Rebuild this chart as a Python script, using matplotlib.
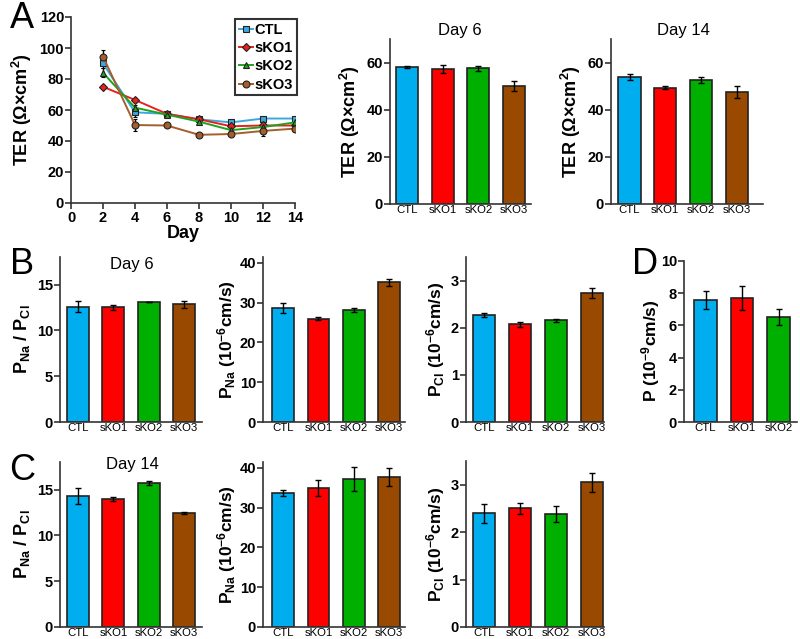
import numpy as np
import matplotlib
matplotlib.use("Agg")
import matplotlib.pyplot as plt

plt.rcParams["font.family"] = ["Liberation Sans", "DejaVu Sans"]
plt.rcParams["mathtext.fontset"] = "custom"
plt.rcParams["mathtext.rm"] = "Liberation Sans:bold"
plt.rcParams["mathtext.it"] = "Liberation Sans:bold"
plt.rcParams["mathtext.bf"] = "Liberation Sans:bold"

# Data
groups = ["CTL", "sKO1", "sKO2", "sKO3"]
days = [2, 4, 6, 8, 10, 12, 14]
ter_ctl = [90, 58.5, 57.5, 54, 52, 54.5, 54.5]
ter_sko1 = [75, 66.5, 57.5, 54, 49.5, 50, 50]
ter_sko2 = [84, 61.5, 57, 52.5, 47, 49, 52]
ter_sko3 = [94.5, 50.3, 50, 44, 44.5, 46.5, 48]
ter_ctl_err = [3, 3, 1, 1, 1, 1, 1]
ter_sko1_err = [1, 1, 1, 1, 1, 1, 1]
ter_sko2_err = [3, 2, 1, 1, 1, 1, 1]
ter_sko3_err = [4, 4, 1, 1, 1, 3, 1.5]

ter_day6 = [58, 57.2, 57.5, 50]
ter_day6_err = [0.5, 1.7, 1.0, 2.0]
ter_day14 = [53.8, 49.3, 52.7, 47.5]
ter_day14_err = [1.2, 0.6, 1.3, 2.5]

ratio_day6 = [12.6, 12.5, 13.05, 12.85]
ratio_day6_err = [0.6, 0.3, 0.0, 0.4]
pna_day6 = [28.6, 26.0, 28.1, 35.1]
pna_day6_err = [1.3, 0.3, 0.5, 0.8]
pcl_day6 = [2.27, 2.07, 2.16, 2.74]
pcl_day6_err = [0.05, 0.05, 0.03, 0.1]

ratio_day14 = [14.3, 13.95, 15.7, 12.4]
ratio_day14_err = [0.9, 0.2, 0.2, 0.1]
pna_day14 = [33.7, 34.9, 37.3, 37.7]
pna_day14_err = [0.8, 2.0, 3.0, 2.2]
pcl_day14 = [2.40, 2.50, 2.38, 3.05]
pcl_day14_err = [0.2, 0.12, 0.17, 0.2]

d_groups = ["CTL", "sKO1", "sKO2"]
perm_d = [7.57, 7.72, 6.52]
perm_d_err = [0.55, 0.75, 0.5]

colors = ["#00AEEF", "#FF0000", "#00B000", "#9A4A00"]
W, H = 800, 639

fig = plt.figure(figsize=(8, 6.39), dpi=100)


def place(l, t, r, b):
    ax = fig.add_axes([l / W, 1 - b / H, (r - l) / W, (b - t) / H])
    ax._wpx = r - l
    return ax


def style(ax, label_off, ylabel, lsize=13):
    for s in ["top", "right"]:
        ax.spines[s].set_visible(False)
    for s in ["left", "bottom"]:
        ax.spines[s].set_color("#333333")
        ax.spines[s].set_linewidth(1.2)
    ax.tick_params(axis="y", direction="out", length=4, width=1.2, color="#333333",
                   labelsize=10.5, pad=1)
    for t in ax.get_yticklabels():
        t.set_fontweight("bold")
    ax.set_ylabel(ylabel, fontsize=lsize, fontweight="bold")
    ax.yaxis.set_label_coords(-label_off / ax._wpx, 0.5)


def bars(ax, names, vals, errs, ylim, yticks, xlim, label_off, ylabel, lsize=13):
    x = np.arange(len(vals))
    ax.bar(x, vals, width=0.62, color=colors[:len(vals)], edgecolor="#222222",
           linewidth=1.2, yerr=errs, capsize=2,
           error_kw=dict(elinewidth=1, ecolor="black", capthick=1))
    ax.set_xlim(*xlim)
    ax.set_ylim(*ylim)
    ax.set_yticks(yticks)
    ax.set_xticks(x)
    ax.set_xticklabels(names, fontsize=8.2)
    ax.tick_params(axis="x", length=0, pad=1)
    style(ax, label_off, ylabel, lsize)


# Panel A line chart
axA = place(71, 17, 295, 203)
series = [(ter_ctl, ter_ctl_err, "s", "CTL", "#3DA8DF"),
          (ter_sko1, ter_sko1_err, "D", "sKO1", "#E8211D"),
          (ter_sko2, ter_sko2_err, "^", "sKO2", "#1FA31F"),
          (ter_sko3, ter_sko3_err, "o", "sKO3", "#A45E2C")]
handles = []
for vals, errs, mk, name, c in series:
    cont = axA.errorbar(days, vals, yerr=errs, color=c, marker=mk,
                        markersize=5 if mk != "D" else 4, markerfacecolor=c,
                        markeredgecolor="#222222", markeredgewidth=0.8, linewidth=1.4,
                        ecolor="black", elinewidth=1, capsize=1.5, label=name)
    handles.append(cont.lines[0])
axA.set_xlim(0, 14)
axA.set_ylim(0, 120)
axA.set_xticks(range(0, 15, 2))
axA.set_yticks(range(0, 121, 20))
style(axA, 37, "TER (\u03a9\u00d7cm$^{2}$)")
axA.tick_params(axis="x", direction="out", length=4, width=1.2, color="#333333",
                labelsize=10.5, pad=2)
for t in axA.get_xticklabels():
    t.set_fontweight("bold")
axA.set_xlabel("Day", fontsize=13, fontweight="bold", labelpad=0)
leg = axA.legend(handles, [s[3] for s in series], loc="upper left",
                 bbox_to_anchor=(235 / W, 1 - 19 / H),
                 bbox_transform=fig.transFigure, fancybox=False,
                 edgecolor="black", handlelength=1.0, handletextpad=0.1,
                 borderpad=0.25, labelspacing=0.3, borderaxespad=0,
                 prop=dict(weight="bold", size=10.5))
leg.get_frame().set_linewidth(1.5)

# Panel A bars
ax6 = place(390, 39, 531, 204)
bars(ax6, groups, ter_day6, ter_day6_err, (0, 70), [0, 20, 40, 60], (-0.47, 3.47),
     28, "TER (\u03a9\u00d7cm$^{2}$)")
fig.text(460 / W, 1 - 31 / H, "Day 6", ha="center", va="center", fontsize=12)

ax14 = place(611, 39, 763, 204)
bars(ax14, groups, ter_day14, ter_day14_err, (0, 70), [0, 20, 40, 60], (-0.52, 3.74),
     28, "TER (\u03a9\u00d7cm$^{2}$)")
fig.text(683 / W, 1 - 31 / H, "Day 14", ha="center", va="center", fontsize=12)

ratio_lbl = "P$_{\\rm Na}$ / P$_{\\rm Cl}$"
pna_lbl = "P$_{\\rm Na}$ (10$^{-6}$cm/s)"
pcl_lbl = "P$_{\\rm Cl}$ (10$^{-6}$cm/s)"

# Panel B
axB1 = place(60, 257, 202, 422)
bars(axB1, groups, ratio_day6, ratio_day6_err, (0, 18), [0, 5, 10, 15], (-0.51, 3.5),
     28, ratio_lbl)
fig.text(132 / W, 1 - 264 / H, "Day 6", ha="center", va="center", fontsize=12)
axB2 = place(263, 257, 405, 422)
bars(axB2, groups, pna_day6, pna_day6_err, (0, 41.5), [0, 10, 20, 30, 40], (-0.57, 3.45),
     25, pna_lbl, 12.5)
axB3 = place(466, 257, 604, 422)
bars(axB3, groups, pcl_day6, pcl_day6_err, (0, 3.5), [0, 1, 2, 3], (-0.5, 3.33),
     19, pcl_lbl, 12.5)

# Panel D
axD = place(684, 261, 797, 422)
bars(axD, d_groups, perm_d, perm_d_err, (0, 10), [0, 2, 4, 6, 8, 10], (-0.59, 2.5),
     22, "P (10$^{-9}$cm/s)", 12.5)
axD.yaxis.set_label_coords(-22 / axD._wpx, 0.44)

# Panel C
axC1 = place(60, 462, 202, 627)
bars(axC1, groups, ratio_day14, ratio_day14_err, (0, 18), [0, 5, 10, 15], (-0.51, 3.5),
     28, ratio_lbl)
fig.text(132 / W, 1 - 464 / H, "Day 14", ha="center", va="center", fontsize=12)
axC2 = place(263, 462, 405, 627)
bars(axC2, groups, pna_day14, pna_day14_err, (0, 41.5), [0, 10, 20, 30, 40], (-0.57, 3.45),
     25, pna_lbl, 12.5)
axC3 = place(466, 461, 604, 627)
bars(axC3, groups, pcl_day14, pcl_day14_err, (0, 3.5), [0, 1, 2, 3], (-0.5, 3.33),
     19, pcl_lbl, 12.5)

# Panel letters
for letter, px, py in [("A", 22, 18), ("B", 22, 265), ("C", 22, 470), ("D", 645, 265)]:
    fig.text(px / W, 1 - py / H, letter, ha="center", va="center", fontsize=26)

fig.savefig("out.png", dpi=100)
